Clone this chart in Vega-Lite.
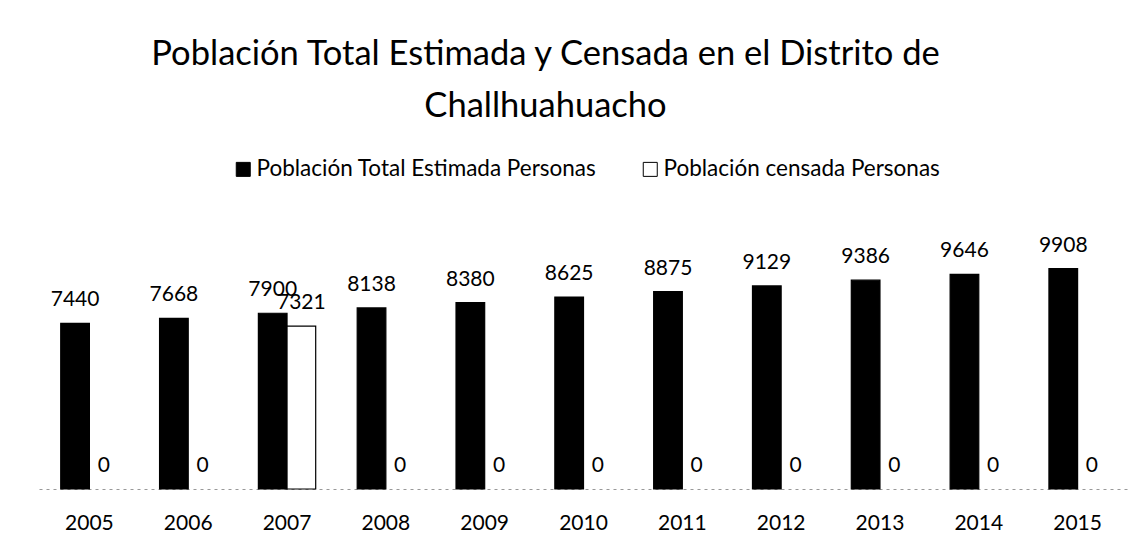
{
  "$schema": "https://vega.github.io/schema/vega-lite/v6.json",
  "width": 1089,
  "height": 267,
  "autosize": {"type": "none"},
  "padding": {"left": 39, "top": 222, "right": 18, "bottom": 58},
  "background": "white",
  "config": {
    "font": "Lato",
    "view": {"stroke": null}
  },
  "title": {
    "text": ["Población Total Estimada y Censada en el Distrito de", "Challhuahuacho"],
    "fontSize": 34.5,
    "fontWeight": "normal",
    "color": "black",
    "anchor": "middle",
    "frame": "group",
    "dx": -38,
    "offset": 34,
    "lineHeight": 52
  },
  "data": {
    "values": [
      {"anio": "2005", "serie": "Población Total Estimada Personas", "valor": 7440},
      {"anio": "2005", "serie": "Población censada Personas", "valor": 0},
      {"anio": "2006", "serie": "Población Total Estimada Personas", "valor": 7668},
      {"anio": "2006", "serie": "Población censada Personas", "valor": 0},
      {"anio": "2007", "serie": "Población Total Estimada Personas", "valor": 7900},
      {"anio": "2007", "serie": "Población censada Personas", "valor": 7321},
      {"anio": "2008", "serie": "Población Total Estimada Personas", "valor": 8138},
      {"anio": "2008", "serie": "Población censada Personas", "valor": 0},
      {"anio": "2009", "serie": "Población Total Estimada Personas", "valor": 8380},
      {"anio": "2009", "serie": "Población censada Personas", "valor": 0},
      {"anio": "2010", "serie": "Población Total Estimada Personas", "valor": 8625},
      {"anio": "2010", "serie": "Población censada Personas", "valor": 0},
      {"anio": "2011", "serie": "Población Total Estimada Personas", "valor": 8875},
      {"anio": "2011", "serie": "Población censada Personas", "valor": 0},
      {"anio": "2012", "serie": "Población Total Estimada Personas", "valor": 9129},
      {"anio": "2012", "serie": "Población censada Personas", "valor": 0},
      {"anio": "2013", "serie": "Población Total Estimada Personas", "valor": 9386},
      {"anio": "2013", "serie": "Población censada Personas", "valor": 0},
      {"anio": "2014", "serie": "Población Total Estimada Personas", "valor": 9646},
      {"anio": "2014", "serie": "Población censada Personas", "valor": 0},
      {"anio": "2015", "serie": "Población Total Estimada Personas", "valor": 9908},
      {"anio": "2015", "serie": "Población censada Personas", "valor": 0}
    ]
  },
  "encoding": {
    "x": {
      "field": "anio",
      "type": "nominal",
      "title": null,
      "scale": {"paddingInner": 0.42, "paddingOuter": 0.22},
      "axis": {
        "labelAngle": 0,
        "labelFontSize": 21,
        "labelColor": "black",
        "labelBaseline": "alphabetic",
        "labelPadding": 40,
        "ticks": false,
        "tickSize": 0,
        "domainColor": "#999999",
        "domainDash": [3, 4],
        "domainWidth": 1
      }
    },
    "xOffset": {
      "field": "serie",
      "type": "nominal",
      "sort": ["Población Total Estimada Personas", "Población censada Personas"],
      "scale": {"paddingInner": 0, "paddingOuter": 0}
    },
    "y": {
      "field": "valor",
      "type": "quantitative",
      "scale": {"domain": [0, 12000], "nice": false},
      "axis": null
    }
  },
  "layer": [
    {
      "mark": {"type": "bar", "stroke": "black"},
      "encoding": {
        "strokeWidth": {
          "condition": {"test": "datum.valor == 0", "value": 0},
          "value": 1.2
        },
        "color": {
          "field": "serie",
          "type": "nominal",
          "sort": ["Población Total Estimada Personas", "Población censada Personas"],
          "scale": {
            "domain": ["Población Total Estimada Personas", "Población censada Personas"],
            "range": ["black", "white"]
          },
          "legend": {
            "title": null,
            "orient": "none",
            "direction": "horizontal",
            "legendX": 193,
            "legendY": -64,
            "padding": 0,
            "symbolType": "square",
            "symbolSize": 196,
            "symbolStrokeColor": "black",
            "symbolStrokeWidth": 1,
            "labelFontSize": 22.5,
            "labelColor": "black",
            "labelOffset": 2,
            "columnPadding": 42,
            "labelLimit": 500
          }
        }
      }
    },
    {
      "mark": {"type": "text", "baseline": "alphabetic", "dy": -17, "fontSize": 21, "color": "black"},
      "encoding": {
        "text": {"field": "valor", "type": "quantitative"}
      }
    }
  ]
}
